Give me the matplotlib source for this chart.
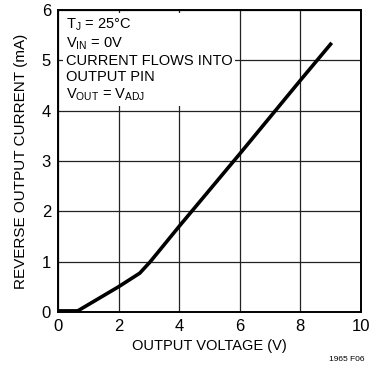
import numpy as np
import matplotlib
matplotlib.use("Agg")
import matplotlib.pyplot as plt

plt.rcParams['font.family'] = ['Liberation Sans', 'DejaVu Sans']

# curva
v_out = [0.0, 0.65, 2.0, 2.7, 3.05, 4.0, 6.0, 8.0, 9.0]
i_rev = [0.02, 0.02, 0.50, 0.77, 1.00, 1.70, 3.14, 4.60, 5.32]

x_ticks = [0, 2, 4, 6, 8, 10]
y_ticks = [0, 1, 2, 3, 4, 5, 6]

fig = plt.figure(figsize=(3.88, 3.70), dpi=100)
ax = fig.add_axes([0.1495, 0.157, 0.7805, 0.816])

ax.plot(v_out, i_rev, color='black', linewidth=2.6, solid_joinstyle='round', zorder=3)

ax.set_xlim(0, 10)
ax.set_ylim(0, 6)
ax.set_xticks(x_ticks)
ax.set_yticks(y_ticks)
ax.tick_params(length=0, labelsize=12, pad=5)
ax.grid(True, color='#222222', linewidth=0.9)
for s in ax.spines.values():
    s.set_linewidth(1.4)

ax.set_xlabel('OUTPUT VOLTAGE (V)', fontsize=10.5, labelpad=4)
ax.set_ylabel('REVERSE OUTPUT CURRENT (mA)', fontsize=11, labelpad=10)

nota = ('T$_\\mathregular{J}$ = 25°C\n'
        'V$_\\mathregular{IN}$ = 0V\n'
        'CURRENT FLOWS INTO\n'
        'OUTPUT PIN\n'
        'V$_\\mathregular{OUT}$ = V$_\\mathregular{ADJ}$')
ax.text(0.25, 5.88, nota, fontsize=10.5, va='top', ha='left', linespacing=1.2,
        bbox=dict(facecolor='white', edgecolor='none', pad=2), zorder=4)

fig.text(0.94, 0.02, '1965 F06', fontsize=6, ha='right', va='bottom')

fig.savefig('out.png', dpi=100)
